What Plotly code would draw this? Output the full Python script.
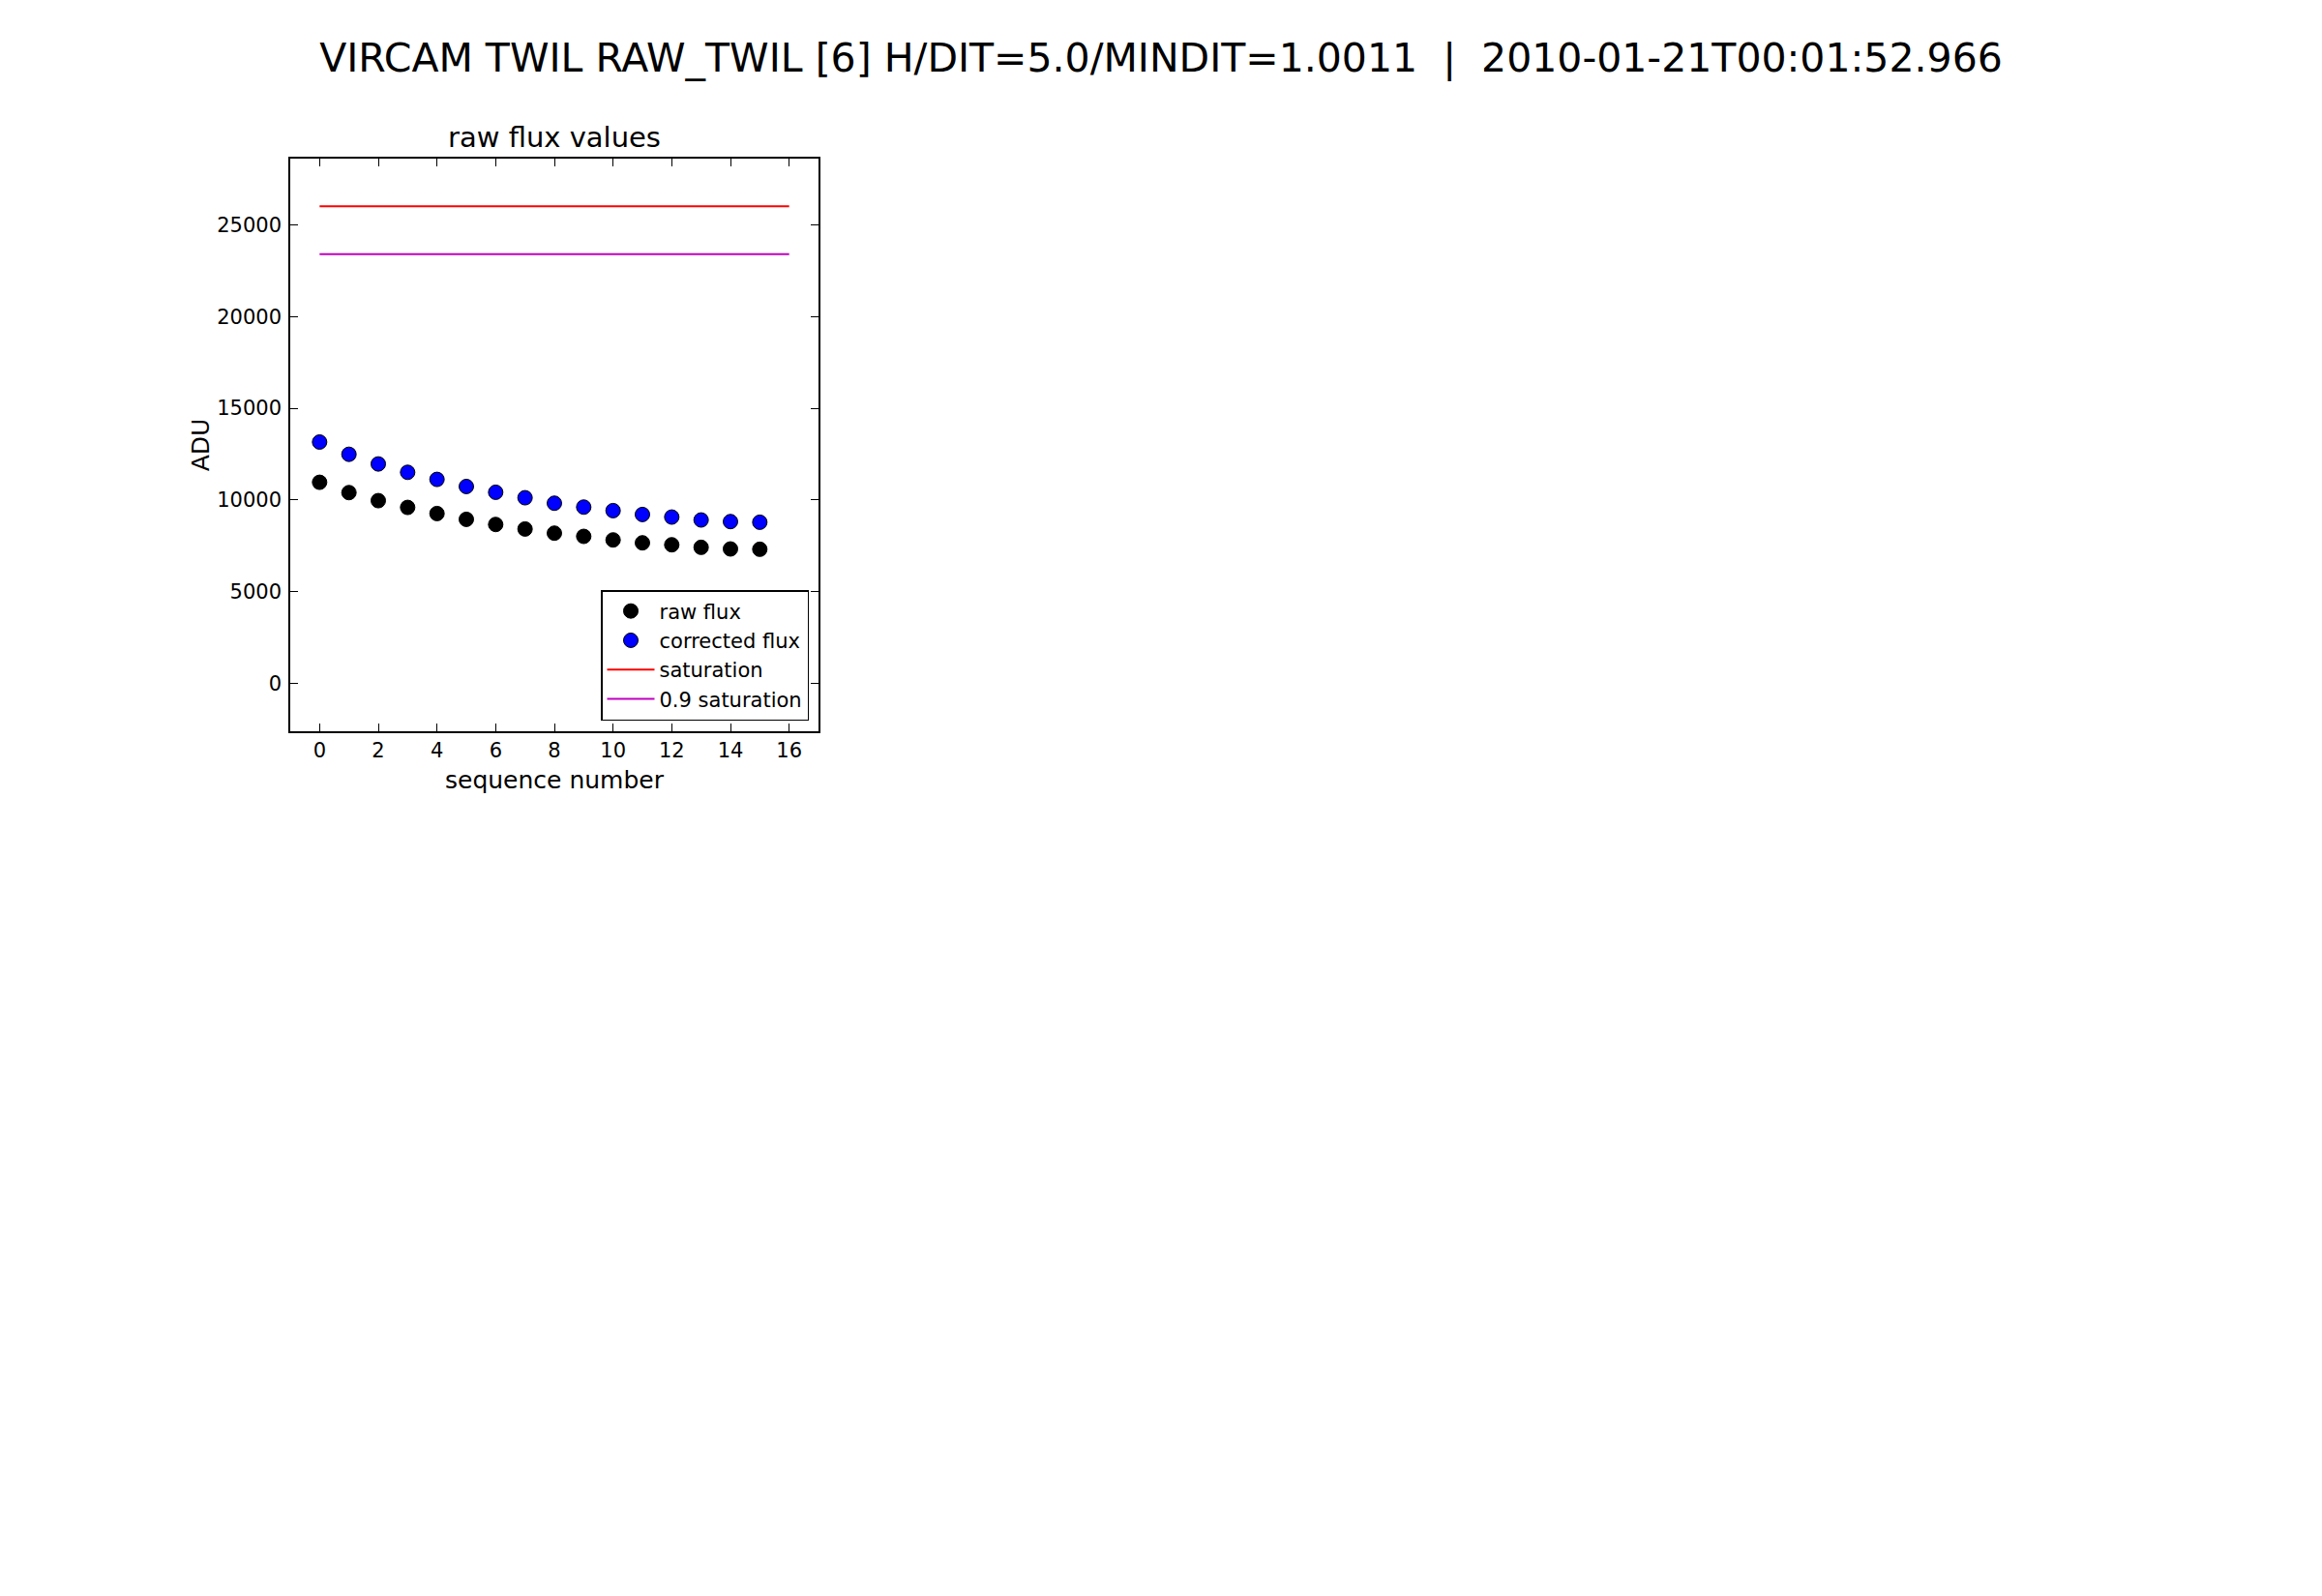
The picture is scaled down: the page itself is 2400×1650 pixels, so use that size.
import plotly.graph_objects as go

# ---- data ----
seq = list(range(16))
raw_flux = [10965, 10404, 9965, 9596, 9263, 8947, 8667, 8421, 8193, 8018,
            7825, 7667, 7561, 7421, 7333, 7316]
corrected_flux = [13158, 12491, 11965, 11509, 11123, 10737, 10421, 10123, 9825,
                  9614, 9421, 9211, 9070, 8912, 8825, 8789]
sat_x = [0, 16]
saturation = [26000, 26000]
sat09 = [23400, 23400]

x_ticks = list(range(0, 17, 2))
y_ticks = [0, 5000, 10000, 15000, 20000, 25000]

suptitle = ("VIRCAM TWIL RAW_TWIL [6] H/DIT=5.0/MINDIT=1.0011\u00a0\u00a0|\u00a0\u00a0"
            "2010-01-21T00:01:52.966")

FONT = "DejaVu Sans"
W, H = 2400, 1650
L, R, T, B = 300, 846, 164, 756

fig = go.Figure()
fig.add_trace(go.Scatter(x=seq, y=raw_flux, mode="markers", name="raw flux",
                         marker=dict(color="black", size=15,
                                     line=dict(color="black", width=1))))
fig.add_trace(go.Scatter(x=seq, y=corrected_flux, mode="markers", name="corrected flux",
                         marker=dict(color="#0000ff", size=15,
                                     line=dict(color="black", width=1))))
fig.add_trace(go.Scatter(x=sat_x, y=saturation, mode="lines", name="saturation",
                         line=dict(color="#ff0000", width=2)))
fig.add_trace(go.Scatter(x=sat_x, y=sat09, mode="lines", name="0.9 saturation",
                         line=dict(color="#bf00bf", width=2)))

axis_common = dict(showgrid=False, zeroline=False, showline=True, linecolor="black",
                   linewidth=1.5, mirror="ticks", ticks="inside", ticklen=8,
                   tickwidth=1, tickcolor="black", tickformat="d",
                   tickfont=dict(family=FONT, size=21, color="black"))

fig.update_xaxes(range=[-1, 17], tickvals=x_ticks,
                 title=dict(text="sequence number",
                            font=dict(family=FONT, size=25, color="black"),
                            standoff=11),
                 **axis_common)
fig.update_yaxes(range=[-2600, 28600], tickvals=y_ticks, ticklabelstandoff=3,
                 title=dict(text="ADU", font=dict(family=FONT, size=25, color="black"),
                            standoff=0),
                 **axis_common)

fig.update_layout(
    width=W, height=H, autosize=False,
    margin=dict(l=L, r=W - R, t=T, b=H - B, pad=0),
    paper_bgcolor="white", plot_bgcolor="white",
    font=dict(family=FONT, color="black"),
    title=dict(text=suptitle, x=0.5, xanchor="center", xref="container",
               y=1 - 60 / H, yref="container", yanchor="middle",
               font=dict(family=FONT, size=41, color="black")),
    legend=dict(x=(836 - L) / (R - L), xanchor="right",
                y=(B - 745) / (B - T), yanchor="bottom",
                bgcolor="white", bordercolor="black", borderwidth=1.5,
                font=dict(family=FONT, size=21, color="black"),
                tracegroupgap=0, itemwidth=49),
    showlegend=True,
)

fig.add_annotation(text="raw flux values", xref="paper", yref="paper",
                   x=0.5, y=1, xanchor="center", yanchor="bottom", yshift=3,
                   showarrow=False, font=dict(family=FONT, size=29, color="black"))

fig.write_html("out.html", config={"displayModeBar": False},
               post_script="document.body.style.margin='0px';")
